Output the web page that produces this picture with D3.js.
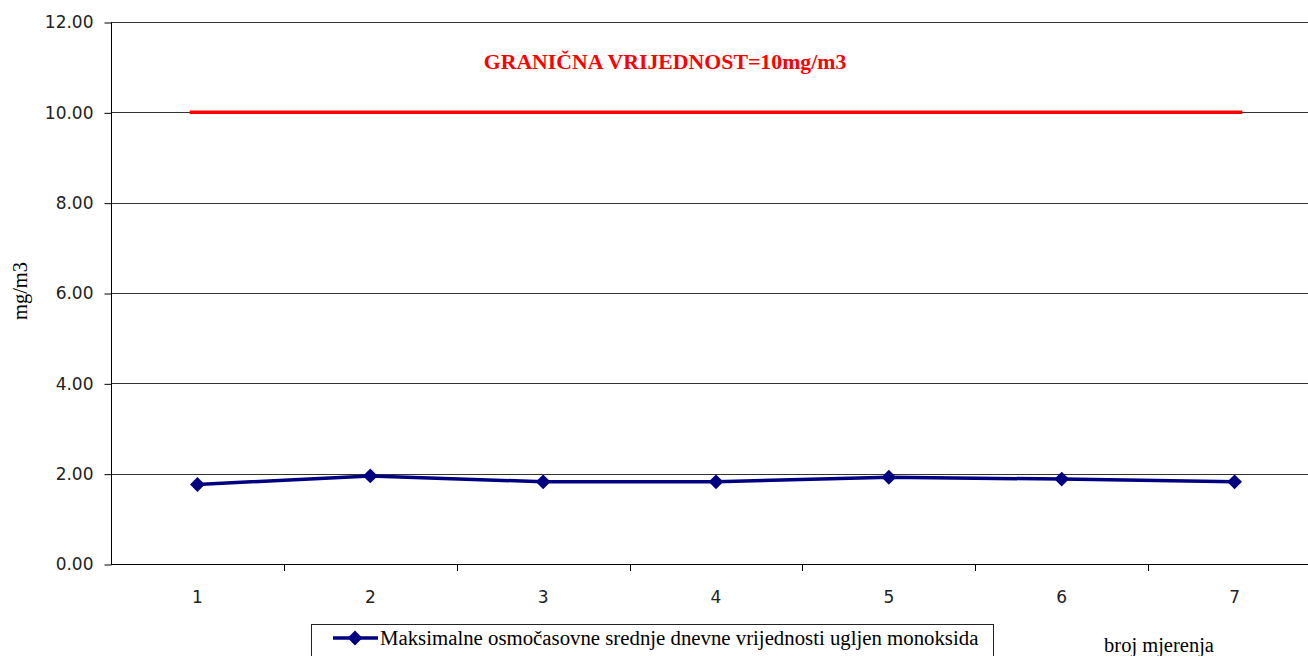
<!DOCTYPE html>
<html>
<head>
<meta charset="UTF-8">
<title>CO</title>
<script src="https://cdn.jsdelivr.net/npm/d3@7"></script>
<style>
  body { margin: 0; background: #fff; }
  svg { display: block; }
</style>
</head>
<body>
<script>
var categories = ["1", "2", "3", "4", "5", "6", "7"];
var values = [1.76, 1.95, 1.82, 1.82, 1.92, 1.88, 1.82];
var limitValues = [10, 10, 10, 10, 10, 10, 10];
var yTicks = [0, 2, 4, 6, 8, 10, 12];
var seriesName = "Maksimalne osmočasovne srednje dnevne vrijednosti ugljen monoksida";
var limitLabel = "GRANIČNA VRIJEDNOST=10mg/m3";
var yTitle = "mg/m3";
var xTitle = "broj mjerenja";

var width = 1308, height = 656;
var plotLeft = 111, plotTop = 22, plotBottom = 564, plotRight = 1321;

var svg = d3.select("body").append("svg")
    .attr("width", width)
    .attr("height", height);

var x = d3.scaleBand().domain(categories).range([plotLeft, plotRight]);
var y = d3.scaleLinear().domain([0, 12]).range([plotBottom, plotTop]);
var cx = function(d, i) { return x(categories[i]) + x.bandwidth() / 2; };

// gridlines
svg.append("g").selectAll("line")
    .data(yTicks.filter(function(t) { return t > 0; }))
    .enter().append("line")
    .attr("x1", plotLeft).attr("x2", width)
    .attr("y1", function(d) { return Math.round(y(d)) + 0.5; })
    .attr("y2", function(d) { return Math.round(y(d)) + 0.5; })
    .attr("stroke", "#333").attr("stroke-width", 1);

// y axis
var yAxis = svg.append("g")
    .attr("transform", "translate(" + (plotLeft + 0.5) + ",0.5)")
    .call(d3.axisLeft(y).tickValues(yTicks).tickFormat(d3.format(".2f")).tickSize(7).tickPadding(11));
yAxis.select(".domain").attr("stroke", "#000").attr("d", "M0," + plotTop + "V" + plotBottom);
yAxis.selectAll(".tick line").attr("stroke", "#000");
yAxis.selectAll("text")
    .attr("font-family", "DejaVu Sans").attr("font-size", 17).attr("fill", "#222");

// x axis
var xAxis = svg.append("g")
    .attr("transform", "translate(0," + (plotBottom + 0.5) + ")")
    .call(d3.axisBottom(x).tickSize(0).tickPadding(26));
xAxis.select(".domain").attr("stroke", "#000").attr("d", "M" + plotLeft + ",0H" + width);
xAxis.selectAll("text")
    .attr("font-family", "DejaVu Sans").attr("font-size", 17).attr("fill", "#222");
svg.append("g").selectAll("line")
    .data(categories)
    .enter().append("line")
    .attr("x1", function(d) { return Math.round(x(d) + x.step()) + 0.5; })
    .attr("x2", function(d) { return Math.round(x(d) + x.step()) + 0.5; })
    .attr("y1", plotBottom).attr("y2", plotBottom + 7)
    .attr("stroke", "#000");

// limit line (runs a little past the first and last category centre)
var ext = x.step() * 0.045;
var limitLine = d3.line()
    .x(function(d, i, arr) {
        var px = cx(d, i);
        if (i === 0) px -= ext;
        if (i === arr.length - 1) px += ext;
        return px;
    })
    .y(function(d) { return y(d); });
svg.append("path")
    .datum(limitValues)
    .attr("d", limitLine)
    .attr("fill", "none")
    .attr("stroke", "#ff0000")
    .attr("stroke-width", 3.5);

svg.append("text")
    .attr("x", 665).attr("y", 69)
    .attr("text-anchor", "middle")
    .attr("font-family", "Liberation Serif")
    .attr("font-weight", "bold")
    .attr("font-size", 21.8)
    .attr("fill", "#ff0000")
    .text(limitLabel);

// data series
var line = d3.line().x(cx).y(function(d) { return y(d); });
svg.append("path")
    .datum(values)
    .attr("d", line)
    .attr("fill", "none")
    .attr("stroke", "#000080")
    .attr("stroke-width", 3.5);

var diamond = d3.symbol().type(d3.symbolDiamond2).size(140);
svg.append("g").selectAll("path")
    .data(values)
    .enter().append("path")
    .attr("d", diamond)
    .attr("transform", function(d, i) { return "translate(" + cx(d, i) + "," + y(d) + ")"; })
    .attr("fill", "#000080");

// y title
svg.append("text")
    .attr("transform", "translate(27,291) rotate(-90)")
    .attr("text-anchor", "middle")
    .attr("font-family", "Liberation Serif")
    .attr("font-size", 20.5)
    .attr("fill", "#000")
    .text(yTitle);

// x title
svg.append("text")
    .attr("x", 1159).attr("y", 652)
    .attr("text-anchor", "middle")
    .attr("font-family", "Liberation Serif")
    .attr("font-size", 20.5)
    .attr("fill", "#000")
    .text(xTitle);

// legend
var legend = svg.append("g");
legend.append("rect")
    .attr("x", 311.5).attr("y", 624.5)
    .attr("width", 682).attr("height", 40)
    .attr("fill", "#fff").attr("stroke", "#222").attr("stroke-width", 1);
legend.append("line")
    .attr("x1", 333).attr("x2", 378)
    .attr("y1", 638).attr("y2", 638)
    .attr("stroke", "#000080").attr("stroke-width", 3.5);
legend.append("path")
    .attr("d", diamond)
    .attr("transform", "translate(355,638)")
    .attr("fill", "#000080");
legend.append("text")
    .attr("x", 380).attr("y", 645)
    .attr("font-family", "Liberation Serif")
    .attr("font-size", 20.8)
    .attr("fill", "#000")
    .text(seriesName);
</script>
</body>
</html>
